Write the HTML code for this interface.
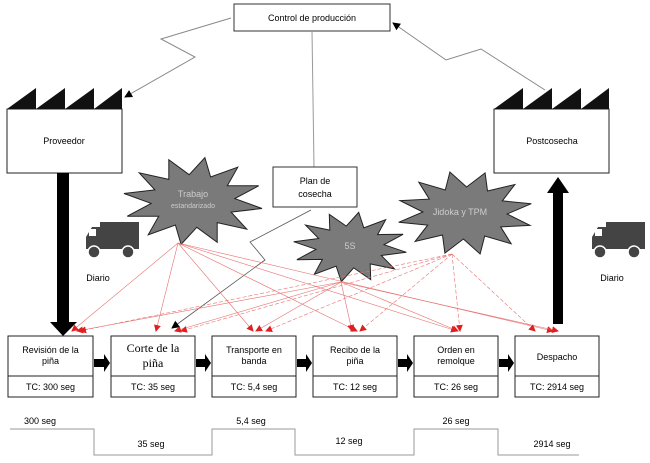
<!DOCTYPE html>
<html><head><meta charset="utf-8"><style>
html,body{margin:0;padding:0;background:#fff;}
svg{display:block;font-family:"Liberation Sans",Arial,sans-serif;}
</style></head><body>
<svg id="s" width="650" height="463" viewBox="0 0 650 463" xmlns="http://www.w3.org/2000/svg">
<defs>
<marker id="ah" markerWidth="8" markerHeight="8" refX="7" refY="4" orient="auto" markerUnits="userSpaceOnUse"><path d="M0,0 L8,4 L0,8 z" fill="#000"/></marker>
<marker id="rh" markerWidth="7" markerHeight="7" refX="6" refY="3.5" orient="auto" markerUnits="userSpaceOnUse"><path d="M0,0 L7,3.5 L0,7 z" fill="#e02020"/></marker>
</defs>
<!-- control -->
<rect x="234" y="4" width="156" height="27" fill="#fff" stroke="#333"/>
<text x="312" y="21" font-size="9" text-anchor="middle">Control de producción</text>
<polyline points="231,18 161,39 195,57 125,97" fill="none" stroke="#888" stroke-width="1" marker-end="url(#ah)"/>
<polyline points="545,90 481,49 446,60 393,23" fill="none" stroke="#888" stroke-width="1" marker-end="url(#ah)"/>
<line x1="312" y1="31" x2="314" y2="167" stroke="#999"/>
<!-- factories -->
<rect x="7" y="109" width="115" height="64" fill="#fff" stroke="#222"/>
<polygon points="7,109 36,88 36,109 65,88 65,109 94,88 94,109 122,88 122,109" fill="#111"/>
<text x="64" y="144" font-size="9" text-anchor="middle">Proveedor</text>
<rect x="494" y="109" width="115" height="64" fill="#fff" stroke="#222"/>
<polygon points="494,109 523,88 523,109 552,88 552,109 581,88 581,109 609,88 609,109" fill="#111"/>
<text x="552" y="144" font-size="9" text-anchor="middle">Postcosecha</text>
<!-- big arrows -->
<rect x="57" y="173" width="12" height="150" fill="#000"/>
<polygon points="50,322 77,322 63,336" fill="#000"/>
<rect x="553" y="192" width="10" height="132" fill="#000"/>
<polygon points="547,193 569,193 558,177" fill="#000"/>
<!-- plan -->
<rect x="273" y="167" width="84" height="40" fill="#fff" stroke="#333"/>
<text x="315" y="184" font-size="9" text-anchor="middle">Plan de</text>
<text x="315" y="197" font-size="9" text-anchor="middle">cosecha</text>
<polyline points="311,210 250,242 265,260 172,328" fill="none" stroke="#555" stroke-width="0.8" marker-end="url(#ah)"/>
<g id="stars"></g>
<g id="red"></g>
<text x="193" y="197" font-size="9" fill="#ccc" text-anchor="middle">Trabajo</text>
<text x="193" y="208" font-size="7" fill="#ccc" text-anchor="middle">estandarizado</text>
<text x="350" y="249" font-size="9" fill="#ccc" text-anchor="middle">5S</text>
<text x="460" y="215" font-size="9" fill="#ccc" text-anchor="middle">Jidoka y TPM</text>
<!-- trucks -->
<g id="t1" fill="#444">
<rect x="100" y="222" width="39" height="27"/>
<path d="M86,249 L86,237 L92,227 L100,227 L100,249 z"/>
<rect x="89" y="229" width="7" height="7" fill="#fff"/>
<circle cx="94" cy="252" r="6" stroke="#fff" stroke-width="1.5"/>
<circle cx="128" cy="252" r="6" stroke="#fff" stroke-width="1.5"/>
</g>
<use href="#t1" x="506" y="0"/>
<text x="98" y="281" font-size="9" text-anchor="middle">Diario</text>
<text x="612" y="281" font-size="9" text-anchor="middle">Diario</text>
<g id="boxes" font-size="9"></g>
<!-- timeline -->
<polyline points="10,429 94,429 94,455 212,455 212,429 295,429 295,455 414,455 414,429 498,429 498,455 579,455" fill="none" stroke="#999"/>
<g font-size="9" text-anchor="middle">
<text x="40" y="424">300 seg</text>
<text x="151" y="447">35 seg</text>
<text x="251" y="424">5,4 seg</text>
<text x="349" y="444">12 seg</text>
<text x="456" y="424">26 seg</text>
<text x="552" y="447">2914 seg</text>
</g>
</svg>
<script>
var NS="http://www.w3.org/2000/svg",s=document.getElementById('s');
function el(t,a,p){var e=document.createElementNS(NS,t);for(var k in a)e.setAttribute(k,a[k]);(p||s).appendChild(e);return e;}
function star(cx,cy,rx,ry,n,inner,rot){var p=[];for(var i=0;i<2*n;i++){var a=rot+Math.PI*i/n;var f=i%2?inner:1;p.push((cx+rx*f*Math.cos(a)).toFixed(1)+","+(cy+ry*f*Math.sin(a)).toFixed(1));}
el('polygon',{points:p.join(' '),fill:'#7a7a7a',stroke:'#222','stroke-width':1},document.getElementById('stars'));}
star(193,201,70,44,12,0.6,-1.4);
star(350,247,57,35,12,0.6,1.2);
star(465,213,68,42,12,0.62,0.3);
var X=[8,111,212,313,414,515],W=[85,84,84,84,84,84];
var t1=[["Revisión de la","piña"],["Corte de la","piña"],["Transporte en","banda"],["Recibo de la","piña"],["Orden en","remolque"],["Despacho"]];
var tc=["TC: 300 seg","TC: 35 seg","TC: 5,4 seg","TC: 12 seg","TC: 26 seg","TC: 2914 seg"];
var g=document.getElementById('boxes');
for(var i=0;i<6;i++){var x=X[i],w=W[i],c=x+w/2;
el('rect',{x:x,y:336,width:w,height:61,fill:'#fff',stroke:'#222'},g);
el('line',{x1:x,y1:376,x2:x+w,y2:376,stroke:'#222'},g);
var big=i==1;
if(t1[i].length==1){var t=el('text',{x:c,y:360,'text-anchor':'middle'},g);t.textContent=t1[i][0];}
else{for(var j=0;j<2;j++){var t=el('text',{x:c,y:big?(352+j*15):(353+j*11),'text-anchor':'middle','font-size':big?12:9,'font-family':big?'Liberation Serif,serif':''},g);t.textContent=t1[i][j];}}
var t=el('text',{x:c,y:390,'text-anchor':'middle'},g);t.textContent=tc[i];
if(i<5){var ax=x+w+1,bx=X[i+1]-1;el('polygon',{points:ax+',359 '+(bx-6)+',359 '+(bx-6)+',354 '+bx+',363 '+(bx-6)+',372 '+(bx-6)+',367 '+ax+',367',fill:'#000'},g);}}
var R=document.getElementById('red');
var O=[[178,243],[341,282],[452,254]];
var T=[[[72,331],[156,331],[253,331],[357,331],[457,331],[553,331]],
[[77,331],[175,331],[256,331],[352,331],[458,331],[558,331]],
[[80,331],[181,331],[266,331],[360,331],[460,331],[535,331]]];
for(var a=0;a<3;a++)for(var b=0;b<6;b++)el('line',{x1:O[a][0],y1:O[a][1],x2:T[a][b][0],y2:T[a][b][1],stroke:'#e87070','stroke-width':0.6,'stroke-dasharray':a==2?'4,2':'','marker-end':'url(#rh)'},R);
</script>
</body></html>
